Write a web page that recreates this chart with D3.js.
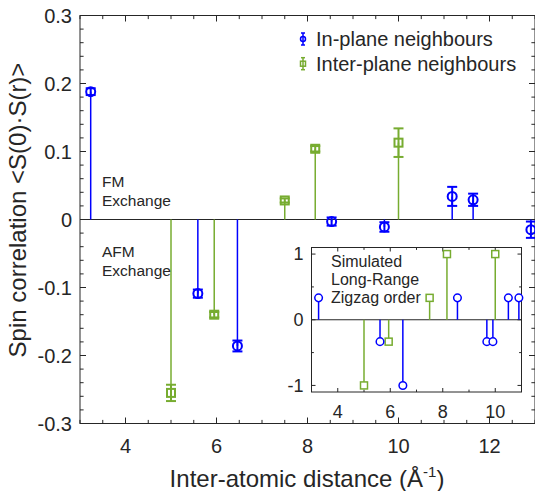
<html>
<head>
    <meta charset="utf-8">
    <style>
        body { margin: 0; background: #fff; }
        text { font-family: "Liberation Sans", Arial, Helvetica, sans-serif; fill: #262626; }
    </style>
</head>
<body>
    <div id="chart"></div>
    <script src="https://cdn.jsdelivr.net/npm/d3@7"></script>
    <script>
        // in-plane neighbours (blue) : distance, correlation, error
        var inX = [3.235, 5.59, 6.46, 8.53, 9.69, 11.18, 11.64, 12.91];
        var inY = [0.188, -0.109, -0.186, -0.003, -0.011, 0.034, 0.029, -0.015];
        var inErr = [0.005, 0.006, 0.008, 0.006, 0.007, 0.014, 0.009, 0.012];

        // inter-plane neighbours (green)
        var outX = [5.0, 5.95, 7.5, 8.17, 10.0];
        var outY = [-0.255, -0.14, 0.028, 0.104, 0.113];
        var outErr = [0.012, 0.004, 0.003, 0.004, 0.021];

        // inset: simulated long-range zigzag order
        var simInX = [3.27, 5.61, 6.48, 8.56, 9.68, 9.91, 10.5, 10.9];
        var simInY = [1 / 3, -1 / 3, -1, 1 / 3, -1 / 3, -1 / 3, 1 / 3, 1 / 3];
        var simOutX = [5.0, 5.94, 7.5, 8.16, 10.0];
        var simOutY = [-1, -1 / 3, 1 / 3, 1, 1];

        var xTicks = [4, 6, 8, 10, 12];
        var yTicks = [0.3, 0.2, 0.1, 0, -0.1, -0.2, -0.3];
        var insetXTicks = [4, 6, 8, 10];
        var insetYTicks = [1, 0, -1];

        var blue = "#0000ff", green = "#77ac30", axisCol = "#262626";

        var width = 535, height = 491;
        var svg = d3.select("#chart").append("svg")
            .attr("width", width)
            .attr("height", height);

        var x = d3.scaleLinear().domain([3, 13]).range([80, 535]);
        var y = d3.scaleLinear().domain([-0.3, 0.3]).range([423.5, 15.5]);

        function pack(xs, ys, es) {
            return xs.map(function (d, i) { return { x: d, y: ys[i], e: es ? es[i] : 0 }; });
        }
        var inData = pack(inX, inY, inErr);
        var outData = pack(outX, outY, outErr);

        // box axes, ticks pointing inward
        function axes(g, xs, ys, xMaj, yMaj, xMin, yMin, fs, tl) {
            var x0 = xs.range()[0], x1 = xs.range()[1], y0 = ys.range()[0], y1 = ys.range()[1];
            g.append("rect").attr("x", x0).attr("y", y1).attr("width", x1 - x0).attr("height", y0 - y1)
                .attr("fill", "none").attr("stroke", axisCol).attr("stroke-width", 1);
            xMin.forEach(function (t) {
                var len = xMaj.indexOf(t) >= 0 ? tl : tl * 0.6;
                g.append("line").attr("x1", xs(t)).attr("x2", xs(t)).attr("y1", y0).attr("y2", y0 - len).attr("stroke", axisCol);
                g.append("line").attr("x1", xs(t)).attr("x2", xs(t)).attr("y1", y1).attr("y2", y1 + len).attr("stroke", axisCol);
            });
            yMin.forEach(function (t) {
                var len = yMaj.some(function (m) { return Math.abs(m - t) < 1e-6; }) ? tl : tl * 0.6;
                g.append("line").attr("y1", ys(t)).attr("y2", ys(t)).attr("x1", x0).attr("x2", x0 + len).attr("stroke", axisCol);
                g.append("line").attr("y1", ys(t)).attr("y2", ys(t)).attr("x1", x1).attr("x2", x1 - len).attr("stroke", axisCol);
            });
            xMaj.forEach(function (t) {
                g.append("text").attr("x", xs(t)).attr("y", y0 + fs * 1.45).attr("text-anchor", "middle")
                    .attr("font-size", fs).text(t);
            });
            yMaj.forEach(function (t) {
                g.append("text").attr("x", x0 - 8).attr("y", ys(t)).attr("dy", "0.35em").attr("text-anchor", "end")
                    .attr("font-size", fs).text(String(Math.round(t * 10) / 10));
            });
        }

        var main = svg.append("g");
        axes(main, x, y, xTicks, yTicks, d3.range(3, 13.01, 0.5), d3.range(-0.3, 0.301, 0.02), 20, 6);

        // zero line
        main.append("line").attr("x1", x(3)).attr("x2", x(13)).attr("y1", y(0)).attr("y2", y(0))
            .attr("stroke", axisCol).attr("stroke-width", 1.2);

        function stems(g, data, xs, ys, col, w) {
            g.selectAll(null).data(data).enter().append("line")
                .attr("x1", function (d) { return xs(d.x); }).attr("x2", function (d) { return xs(d.x); })
                .attr("y1", ys(0)).attr("y2", function (d) { return ys(d.y); })
                .attr("stroke", col).attr("stroke-width", w);
        }
        function errbars(g, data, col) {
            var cap = 5;
            data.forEach(function (d) {
                var cx = x(d.x), top = y(d.y + d.e), bot = y(d.y - d.e);
                g.append("line").attr("x1", cx).attr("x2", cx).attr("y1", top).attr("y2", bot).attr("stroke", col).attr("stroke-width", 2);
                g.append("line").attr("x1", cx - cap).attr("x2", cx + cap).attr("y1", top).attr("y2", top).attr("stroke", col).attr("stroke-width", 2);
                g.append("line").attr("x1", cx - cap).attr("x2", cx + cap).attr("y1", bot).attr("y2", bot).attr("stroke", col).attr("stroke-width", 2);
            });
        }

        var plot = main.append("g");
        stems(plot, outData, x, y, green, 1.5);
        stems(plot, inData, x, y, blue, 1.5);
        errbars(plot, outData, green);
        errbars(plot, inData, blue);
        plot.selectAll(null).data(outData).enter().append("rect")
            .attr("x", function (d) { return x(d.x) - 4; }).attr("y", function (d) { return y(d.y) - 4; })
            .attr("width", 8).attr("height", 8)
            .attr("fill", "none").attr("stroke", green).attr("stroke-width", 2);
        plot.selectAll(null).data(inData).enter().append("circle")
            .attr("cx", function (d) { return x(d.x); }).attr("cy", function (d) { return y(d.y); })
            .attr("r", 4.5).attr("fill", "none").attr("stroke", blue).attr("stroke-width", 2);

        // annotations
        var notes = [["FM", 102, 187], ["Exchange", 102, 206], ["AFM", 102, 257], ["Exchange", 102, 276]];
        notes.forEach(function (n) {
            main.append("text").attr("x", n[1]).attr("y", n[2]).attr("font-size", 15.5).attr("fill", "#000").text(n[0]);
        });

        // legend
        var legend = svg.append("g");
        [["In-plane neighbours", blue, 46, "circle"], ["Inter-plane neighbours", green, 70.7, "rect"]].forEach(function (l) {
            var cy = l[2] - 7;
            legend.append("line").attr("x1", 303).attr("x2", 303).attr("y1", cy - 6).attr("y2", cy + 6).attr("stroke", l[1]).attr("stroke-width", 1.5);
            legend.append("line").attr("x1", 301).attr("x2", 305).attr("y1", cy - 6).attr("y2", cy - 6).attr("stroke", l[1]).attr("stroke-width", 1.5);
            legend.append("line").attr("x1", 301).attr("x2", 305).attr("y1", cy + 6).attr("y2", cy + 6).attr("stroke", l[1]).attr("stroke-width", 1.5);
            if (l[3] === "circle") {
                legend.append("circle").attr("cx", 303).attr("cy", cy).attr("r", 2.5).attr("fill", "none").attr("stroke", l[1]).attr("stroke-width", 1.5);
            } else {
                legend.append("rect").attr("x", 300.5).attr("y", cy - 2.5).attr("width", 5).attr("height", 5).attr("fill", "none").attr("stroke", l[1]).attr("stroke-width", 1.5);
            }
            legend.append("text").attr("x", 316).attr("y", l[2]).attr("font-size", 20).attr("fill", "#000").text(l[0]);
        });

        // axis labels
        svg.append("text").attr("transform", "translate(26,210) rotate(-90)").attr("text-anchor", "middle")
            .attr("font-size", 24).text("Spin correlation <S(0)\u00b7S(r)>");
        var xl = svg.append("text").attr("x", 307).attr("y", 487).attr("text-anchor", "middle").attr("font-size", 24);
        xl.append("tspan").text("Inter-atomic distance (\u00c5");
        xl.append("tspan").attr("dy", -10).attr("font-size", 15).text("-1");
        xl.append("tspan").attr("dy", 10).text(")");

        // inset
        var ix = d3.scaleLinear().domain([3, 11]).range([311.5, 521.5]);
        var iy = d3.scaleLinear().domain([-1.1, 1.1]).range([392, 247.5]);
        var inset = svg.append("g");
        inset.append("rect").attr("x", 311.5).attr("y", 247.5).attr("width", 210).attr("height", 144.5).attr("fill", "#fff");
        axes(inset, ix, iy, insetXTicks, insetYTicks, d3.range(3, 11.01, 1), d3.range(-1, 1.01, 0.5), 18, 4);
        inset.append("line").attr("x1", ix(3)).attr("x2", ix(11)).attr("y1", iy(0)).attr("y2", iy(0))
            .attr("stroke", axisCol).attr("stroke-width", 1.2);
        var simIn = pack(simInX, simInY), simOut = pack(simOutX, simOutY);
        stems(inset, simOut, ix, iy, green, 1.5);
        stems(inset, simIn, ix, iy, blue, 1.5);
        inset.selectAll(null).data(simOut).enter().append("rect")
            .attr("x", function (d) { return ix(d.x) - 3.5; }).attr("y", function (d) { return iy(d.y) - 3.5; })
            .attr("width", 7).attr("height", 7)
            .attr("fill", "#fff").attr("stroke", green).attr("stroke-width", 1.5);
        inset.selectAll(null).data(simIn).enter().append("circle")
            .attr("cx", function (d) { return ix(d.x); }).attr("cy", function (d) { return iy(d.y); })
            .attr("r", 3.8).attr("fill", "#fff").attr("stroke", blue).attr("stroke-width", 1.5);
        ["Simulated", "Long-Range", "Zigzag order"].forEach(function (t, i) {
            inset.append("text").attr("x", 331).attr("y", 267 + i * 18).attr("font-size", 16).attr("fill", "#000").text(t);
        });
    </script>
</body>
</html>
